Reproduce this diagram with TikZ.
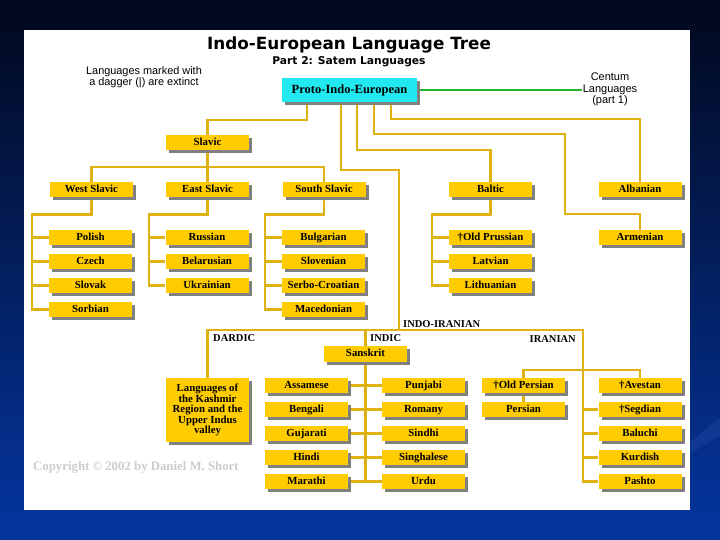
\documentclass[tikz,border=0pt]{standalone}
\usepackage{fontspec}
\setmainfont{Liberation Serif}
\newfontfamily\titlefont{DejaVu Sans}
\newfontfamily\notefont{Liberation Sans}
\usetikzlibrary{shadows,calc}
\definecolor{boxyellow}{RGB}{255,204,0}
\definecolor{linegold}{RGB}{222,178,18}
\definecolor{piecyan}{RGB}{34,232,240}
\definecolor{shadowgray}{RGB}{128,128,128}
\definecolor{greenline}{RGB}{40,180,40}
\definecolor{bgtop}{RGB}{2,8,28}
\definecolor{bgbot}{RGB}{4,54,160}
\definecolor{copygray}{RGB}{205,205,205}
\definecolor{swoosh}{RGB}{60,100,190}
\pgfdeclarelayer{bg}
\pgfdeclarelayer{lines}
\pgfsetlayers{bg,lines,main}
\begin{document}
\begin{tikzpicture}[x=1pt,y=-1pt,
  lang/.style={fill=boxyellow, minimum width=83pt, minimum height=15.5pt, inner sep=0pt,
    text height=7.4pt, text depth=2.2pt,
    font=\fontsize{10.8}{11}\selectfont\bfseries,
    drop shadow={shadow xshift=3pt,shadow yshift=-3pt,fill=shadowgray,opacity=1}},
  conn/.style={draw=linegold, line width=2.3pt},
  grp/.style={font=\fontsize{10.5}{11}\selectfont\bfseries, inner sep=0pt},
]
\useasboundingbox (0,0) rectangle (720,540);
\begin{pgfonlayer}{bg}
\fill[top color=bgtop, bottom color=bgbot] (0,0) rectangle (720,540);
\fill[swoosh, opacity=0.2] (680,450) .. controls (695,440) and (705,428) .. (720,418)
  -- (720,436) .. controls (705,444) and (695,452) .. (680,458) -- cycle;
\fill[white] (24,30) rectangle (690,510);
\end{pgfonlayer}

% titles
\node[font=\titlefont\bfseries\fontsize{16.8}{18}\selectfont] (title) at (349,45) {Indo-European Language Tree};
\node[font=\titlefont\bfseries\fontsize{10.7}{12}\selectfont] (subtitle) at (349,62) {Part 2: Satem Languages};
\node[font=\notefont\fontsize{10.9}{11}\selectfont, align=center] (note) at (144,77.5) {Languages marked with\\a dagger (|) are extinct};
\node[font=\notefont\fontsize{11}{11.5}\selectfont, align=center, inner sep=1pt] (centum) at (610,89.5) {Centum\\Languages\\(part 1)};

% root
\node[fill=piecyan, minimum width=135pt, minimum height=24pt, inner sep=0pt,
  font=\fontsize{12.5}{13}\selectfont\bfseries,
  drop shadow={shadow xshift=3pt,shadow yshift=-3pt,fill=shadowgray,opacity=1}] (pie) at (349.5,90) {Proto-Indo-European};

% Slavic
\node[lang] (slavic) at (207.5,142.5) {Slavic};
\node[lang] (west) at (91.5,189.5) {West Slavic};
\node[lang] (east) at (207.5,189.5) {East Slavic};
\node[lang] (south) at (324,189.5) {South Slavic};
\node[lang] (baltic) at (490.5,189.5) {Baltic};
\node[lang] (albanian) at (640,189.5) {Albanian};

\node[lang] (polish) at (90.5,237.5) {Polish};
\node[lang] (czech) at (90.5,261.5) {Czech};
\node[lang] (slovak) at (90.5,285.5) {Slovak};
\node[lang] (sorbian) at (90.5,309.5) {Sorbian};

\node[lang] (russian) at (207,237.5) {Russian};
\node[lang] (belarusian) at (207,261.5) {Belarusian};
\node[lang] (ukrainian) at (207,285.5) {Ukrainian};

\node[lang] (bulgarian) at (323.5,237.5) {Bulgarian};
\node[lang] (slovenian) at (323.5,261.5) {Slovenian};
\node[lang] (serbocroatian) at (323.5,285.5) {Serbo-Croatian};
\node[lang] (macedonian) at (323.5,309.5) {Macedonian};

\node[lang] (oldprussian) at (490.5,237.5) {†Old Prussian};
\node[lang] (latvian) at (490.5,261.5) {Latvian};
\node[lang] (lithuanian) at (490.5,285.5) {Lithuanian};

\node[lang] (armenian) at (640,237.5) {Armenian};

% Indo-Iranian
\node[grp, anchor=west] (indoiranian) at (403,324) {INDO-IRANIAN};
\node[grp, anchor=west] (dardic) at (213,338) {DARDIC};
\node[grp, anchor=west] (indic) at (370,338) {INDIC};
\node[grp, anchor=east] (iranian) at (576,339) {IRANIAN};

\node[lang] (sanskrit) at (365.5,354) {Sanskrit};
\node[lang, minimum height=64pt, text height=, text depth=, align=center,
  font=\fontsize{10.8}{10.5}\selectfont\bfseries] (kashmir) at (207.5,410)
  {Languages of\\the Kashmir\\Region and the\\Upper Indus\\valley};

\node[lang] (assamese) at (306.5,385.5) {Assamese};
\node[lang] (bengali) at (306.5,409.5) {Bengali};
\node[lang] (gujarati) at (306.5,433.5) {Gujarati};
\node[lang] (hindi) at (306.5,457.5) {Hindi};
\node[lang] (marathi) at (306.5,481.5) {Marathi};

\node[lang] (punjabi) at (423.5,385.5) {Punjabi};
\node[lang] (romany) at (423.5,409.5) {Romany};
\node[lang] (sindhi) at (423.5,433.5) {Sindhi};
\node[lang] (singhalese) at (423.5,457.5) {Singhalese};
\node[lang] (urdu) at (423.5,481.5) {Urdu};

\node[lang] (oldpersian) at (523.5,385.5) {†Old Persian};
\node[lang] (persian) at (523.5,409.5) {Persian};

\node[lang] (avestan) at (640,385.5) {†Avestan};
\node[lang] (segdian) at (640,409.5) {†Segdian};
\node[lang] (baluchi) at (640,433.5) {Baluchi};
\node[lang] (kurdish) at (640,457.5) {Kurdish};
\node[lang] (pashto) at (640,481.5) {Pashto};

\node[font=\fontsize{12.8}{13}\selectfont\bfseries, text=copygray, anchor=west, inner sep=0pt] (copyright) at (33,467) {Copyright © 2002 by Daniel M. Short};

% connectors
\begin{pgfonlayer}{lines}
\draw[greenline, line width=2.5pt] (pie.east) -- (pie.east -| centum.west);

\coordinate (p1) at ($(pie.south west)+(25,0)$);
\coordinate (p2) at ($(pie.south west)+(59,0)$);
\coordinate (p3) at ($(pie.south west)+(75.5,0)$);
\coordinate (p4) at ($(pie.south west)+(92.5,0)$);
\coordinate (p5) at ($(pie.south west)+(109,0)$);

\draw[conn] (p1) -- ++(0,17.5) -| (slavic.north);
\coordinate (slj) at ($(slavic.south)+(0,16.5)$);
\draw[conn] (west.north) |- (slj) -| (south.north);
\draw[conn] (slavic.south) -- (east.north);

\draw[conn] (west.south) -- ++(0,17) -| ($(sorbian.west)+(-16.5,0)$) -- (sorbian.west);
\foreach \n in {polish,czech,slovak} \draw[conn] (\n.west) -- ++(-16.5,0);
\draw[conn] (east.south) -- ++(0,17) -| ($(ukrainian.west)+(-16.5,0)$) -- (ukrainian.west);
\foreach \n in {russian,belarusian} \draw[conn] (\n.west) -- ++(-16.5,0);
\draw[conn] (south.south) -- ++(0,17) -| ($(macedonian.west)+(-16.5,0)$) -- (macedonian.west);
\foreach \n in {bulgarian,slovenian,serbocroatian} \draw[conn] (\n.west) -- ++(-16.5,0);
\draw[conn] (baltic.south) -- ++(0,17) -| ($(lithuanian.west)+(-16.5,0)$) -- (lithuanian.west);
\foreach \n in {oldprussian,latvian} \draw[conn] (\n.west) -- ++(-16.5,0);

\draw[conn] (p3) -- ++(0,48) -| (baltic.north);
\draw[conn] (p5) -- ++(0,16.5) -| (albanian.north);
\coordinate (armbend) at (565,214);
\draw[conn] (p4) -- ++(0,32) -| (armbend) -| (armenian.north);
\coordinate (ii) at (399,330);
\draw[conn] (p2) -- ++(0,68) -| (ii);

\coordinate (irbend) at (583,330);
\draw[conn] (kashmir.north) |- (irbend) -- (irbend |- pashto.west) -- (pashto.west);
\foreach \n in {segdian,baluchi,kurdish} \draw[conn] (\n.west) -- (\n.west -| irbend);
\coordinate (irj) at (583,370);
\draw[conn] (oldpersian.north) |- (irj) -| (avestan.north);
\draw[conn] (oldpersian.south) -- (persian.north);

\draw[conn] (sanskrit.north) -- (sanskrit.north |- irbend);
\draw[conn] (sanskrit.south) -- (sanskrit.south |- marathi.east);
\foreach \n in {assamese,bengali,gujarati,hindi,marathi} \draw[conn] (\n.east) -- (\n.east -| sanskrit.south);
\foreach \n in {punjabi,romany,sindhi,singhalese,urdu} \draw[conn] (\n.west) -- (\n.west -| sanskrit.south);
\end{pgfonlayer}
\end{tikzpicture}
\end{document}
